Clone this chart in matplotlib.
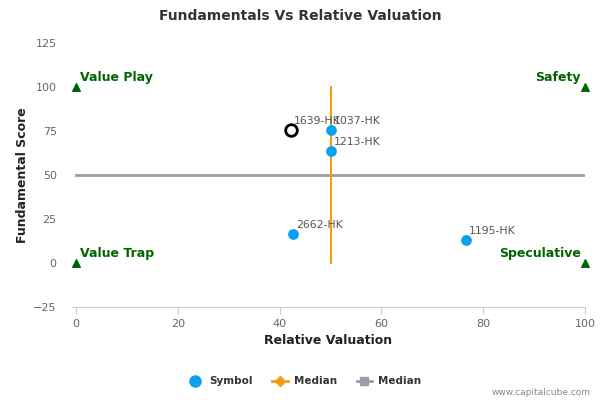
import matplotlib
matplotlib.use("Agg")
import matplotlib.pyplot as plt
from matplotlib.lines import Line2D

symbols = ["1639-HK", "1037-HK", "1213-HK", "2662-HK", "1195-HK"]
rel_val = [42.3, 50.0, 50.0, 42.7, 76.6]
fund_score = [75.6, 75.6, 63.6, 16.5, 13.0]
highlight = "1639-HK"

median_x = 50
median_y = 50

quad_labels = ["Value Play", "Safety", "Value Trap", "Speculative"]
quad_x = [0, 100, 0, 100]
quad_y = [100, 100, 0, 0]

xticks = [0, 20, 40, 60, 80, 100]
yticks = [-25, 0, 25, 50, 75, 100, 125]

fig = plt.figure(figsize=(6, 4), dpi=100)
ax = fig.add_axes([0.12, 0.2325, 0.855, 0.66])
ax.set_xlim(-0.8, 100)
ax.set_ylim(-25, 125)

blue = "#0aa0f0"
orange = "#f79a10"
gray = "#9a9ca8"
green = "#006400"

ax.plot([0, 100], [median_y, median_y], color=gray, lw=2, zorder=2)
ax.plot([median_x, median_x], [0, 100], color=orange, lw=1.5, zorder=3)

for s, x, y in zip(symbols, rel_val, fund_score):
    if s == highlight:
        ax.scatter([x], [y], s=70, facecolor="white", edgecolor="black", linewidth=2, zorder=5)
    else:
        ax.scatter([x], [y], s=60, color=blue, zorder=4, linewidths=0)
    ax.annotate(s, (x, y), xytext=(2, 3), textcoords="offset points", fontsize=7.8,
                color="#555555", ha="left", va="bottom", zorder=6)

for lab, x, y in zip(quad_labels, quad_x, quad_y):
    ax.scatter([x], [y], marker="^", s=30, color=green, zorder=5, clip_on=False)
    if x == 0:
        ax.annotate(lab, (x, y), xytext=(3, 2), textcoords="offset points", fontsize=9,
                    fontweight="bold", color=green, ha="left", va="bottom")
    else:
        ax.annotate(lab, (x, y), xytext=(-3, 2), textcoords="offset points", fontsize=9,
                    fontweight="bold", color=green, ha="right", va="bottom")

ax.set_xticks(xticks)
ax.set_yticks(yticks)
ax.tick_params(axis="both", labelsize=8, labelcolor="#666666")
ax.tick_params(axis="y", length=0, pad=11)
ax.tick_params(axis="x", length=5, color="#c0d0e0")
for sp in ["top", "right", "left"]:
    ax.spines[sp].set_visible(False)
ax.spines["bottom"].set_color("#c0d0e0")

ax.set_xlabel("Relative Valuation", fontsize=9, fontweight="bold", color="#222222", labelpad=4)
ax.set_ylabel("Fundamental Score", fontsize=9, fontweight="bold", color="#222222", labelpad=3)
fig.text(0.5, 0.96, "Fundamentals Vs Relative Valuation", ha="center", va="center",
         fontsize=10, fontweight="bold", color="#333333")

handles = [
    Line2D([], [], marker="o", color=blue, linestyle="none", markersize=8),
    Line2D([], [], marker="D", color=orange, lw=2, markersize=5),
    Line2D([], [], marker="s", color=gray, lw=2, markersize=6),
]
fig.legend(handles, ["Symbol", "Median", "Median"], loc="center", bbox_to_anchor=(0.5075, 0.047),
           ncol=3, frameon=False, prop={"size": 7.5, "weight": "bold"}, handlelength=1.45,
           handletextpad=0.6, columnspacing=1.9, labelcolor="#333333")
fig.text(0.985, 0.018, "www.capitalcube.com", ha="right", va="center", fontsize=6.5, color="#888888")

fig.savefig("out.png", dpi=100)
